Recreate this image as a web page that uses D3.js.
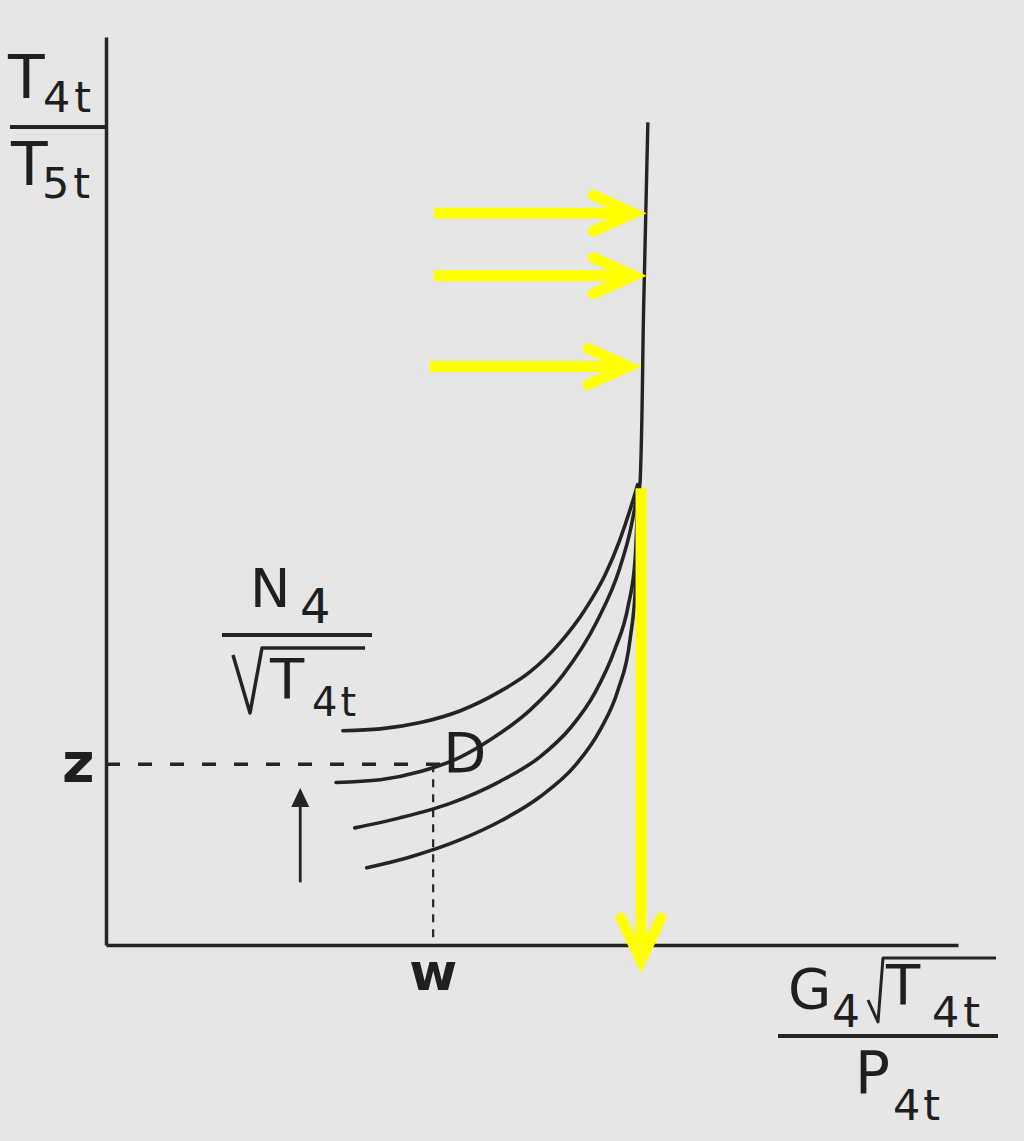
<!DOCTYPE html>
<html>
<head>
<meta charset="utf-8">
<script src="https://cdn.jsdelivr.net/npm/d3@7"></script>
<style>
  html, body { margin: 0; padding: 0; background: #e6e6e6; }
  svg { display: block; }
  text { font-family: "DejaVu Sans", sans-serif; fill: #1f1f1f; }
</style>
</head>
<body>
<svg id="chart" width="1024" height="1141"></svg>
<script>
// ---- data (abstract chart units, 0..100 on both axes) ----
const curve1 = [[27.8,23.6],[32.2,23.8],[36.9,24.5],[41.6,25.8],[46.2,27.9],[49.8,30.1],[53.3,33.3],[56.2,36.9],[58.6,40.8],[60.3,44.6],[61.7,48.5],[62.4,50.7]];
const curve2 = [[27.0,17.9],[32.2,18.2],[36.9,19.1],[41.6,20.7],[45.1,22.6],[49.8,25.9],[53.6,29.7],[57.6,35.6],[60.3,41.5],[61.5,45.5],[62.3,49.3]];
const curve3 = [[29.2,12.9],[34.5,14.0],[40.4,15.6],[46.2,18.0],[50.9,20.7],[54.5,23.9],[57.4,27.8],[59.7,32.5],[61.3,37.4],[62.1,42.4],[62.4,48.5]];
const curve4 = [[30.6,8.5],[35.7,9.7],[41.6,11.6],[46.2,13.6],[50.9,16.3],[55.1,19.8],[58.0,23.7],[60.1,28.1],[61.5,33.6],[62.2,40.2],[62.4,46.8]];
const speedLines = [curve1, curve2, curve3, curve4];
const chokeLine = [[62.4,49.0],[62.7,51.2],[63.1,70.0],[63.6,90.6]];

const zLevel = 19.9;         // operating point ordinate
const wLevel = 38.4;         // operating point abscissa
const tickLabels = ["z", "w"];
const pointLabel = "D";
const upArrow = [[22.8, 6.9], [22.8, 17.3]];

// yellow annotation arrows: [y, xStart, xEnd]
const yellowH = [[80.6, 38.5, 63.3], [73.7, 38.5, 63.3], [63.7, 38.0, 62.7]];
// vertical yellow arrow: [x, yStart, yEnd]
const yellowV = [62.8, 50.3, -3.0];

// ---- drawing ----
const svg = d3.select("#chart");
const x = d3.scaleLinear().domain([0, 100]).range([106, 958]);
const y = d3.scaleLinear().domain([0, 100]).range([945, 37]);
const ink = "#242424";

svg.append("rect").attr("width", 1024).attr("height", 1141).attr("fill", "#e6e6e6");

// axes (no ticks, just the lines)
const gx = svg.append("g").attr("transform", `translate(0,${y(0)})`)
  .call(d3.axisBottom(x).tickValues([]).tickSizeOuter(0));
const gy = svg.append("g").attr("transform", `translate(${x(0)},0)`)
  .call(d3.axisLeft(y).tickValues([]).tickSizeOuter(0));
[gx, gy].forEach(g => g.select(".domain").attr("stroke", ink).attr("stroke-width", 3.5));

const line = d3.line().x(d => x(d[0])).y(d => y(d[1])).curve(d3.curveMonotoneX);

svg.append("g").selectAll("path").data(speedLines).join("path")
  .attr("d", line).attr("fill", "none").attr("stroke", ink).attr("stroke-width", 3.6)
  .attr("stroke-linecap", "round");

svg.append("path").attr("d", d3.line().x(d => x(d[0])).y(d => y(d[1])).curve(d3.curveMonotoneY)(chokeLine))
  .attr("fill", "none").attr("stroke", ink).attr("stroke-width", 3.4);

// dashed guide lines
svg.append("line").attr("x1", x(0)).attr("x2", x(wLevel) + 8).attr("y1", y(zLevel)).attr("y2", y(zLevel))
  .attr("stroke", ink).attr("stroke-width", 3.5).attr("stroke-dasharray", "14,18");
svg.append("line").attr("x1", x(wLevel)).attr("x2", x(wLevel)).attr("y1", y(zLevel)).attr("y2", y(0))
  .attr("stroke", ink).attr("stroke-width", 2.2).attr("stroke-dasharray", "8,7");

// up arrow
svg.append("line").attr("x1", x(upArrow[0][0])).attr("x2", x(upArrow[1][0]))
  .attr("y1", y(upArrow[0][1])).attr("y2", y(upArrow[1][1]) + 14)
  .attr("stroke", ink).attr("stroke-width", 2.8);
{
  const ax = x(upArrow[1][0]), ay = y(upArrow[1][1]);
  svg.append("path").attr("d", `M${ax},${ay} L${ax - 9},${ay + 19} L${ax + 9},${ay + 19} Z`).attr("fill", ink);
}

// tick labels z, w and point label D
svg.append("text").attr("x", 62).attr("y", y(zLevel) + 18).attr("font-size", 56).attr("font-weight", "bold").text(tickLabels[0]);
svg.append("text").attr("x", x(wLevel)).attr("y", y(0) + 45).attr("text-anchor", "middle")
  .attr("font-size", 52).attr("font-weight", "bold").text(tickLabels[1]);
svg.append("text").attr("x", x(wLevel) + 10).attr("y", y(zLevel) + 8).attr("font-size", 56).text(pointLabel);

// axis titles
function frac(g, x1, x2, yy) {
  g.append("line").attr("x1", x1).attr("x2", x2).attr("y1", yy).attr("y2", yy)
    .attr("stroke", ink).attr("stroke-width", 4);
}
const lab = svg.append("g");
// y title T4t / T5t
lab.append("text").attr("x", 8).attr("y", 98).attr("font-size", 60).text("T");
lab.append("text").attr("x", 43).attr("y", 112).attr("font-size", 43).attr("letter-spacing", 4).text("4t");
frac(lab, 10, 107, 127);
lab.append("text").attr("x", 11).attr("y", 185).attr("font-size", 60).text("T");
lab.append("text").attr("x", 42).attr("y", 198).attr("font-size", 43).attr("letter-spacing", 4).text("5t");

// curve family label N4 / sqrt(T4t)
lab.append("text").attr("x", 250).attr("y", 607).attr("font-size", 54).text("N");
lab.append("text").attr("x", 300).attr("y", 623).attr("font-size", 48).text("4");
frac(lab, 222, 372, 635);
lab.append("path").attr("d", "M233,655 L250,713 L262,648 L365,648")
  .attr("fill", "none").attr("stroke", ink).attr("stroke-width", 3.5).attr("stroke-linejoin", "round");
lab.append("text").attr("x", 270).attr("y", 698).attr("font-size", 56).text("T");
lab.append("text").attr("x", 312).attr("y", 716).attr("font-size", 40).attr("letter-spacing", 3).text("4t");

// x title G4 sqrt(T4t) / P4t
lab.append("text").attr("x", 788).attr("y", 1008).attr("font-size", 56).text("G");
lab.append("text").attr("x", 832).attr("y", 1027).attr("font-size", 44).text("4");
lab.append("path").attr("d", "M868,1000 L878,1022 L883,958 L996,958")
  .attr("fill", "none").attr("stroke", ink).attr("stroke-width", 3).attr("stroke-linejoin", "round");
lab.append("text").attr("x", 886).attr("y", 1004).attr("font-size", 56).text("T");
lab.append("text").attr("x", 932).attr("y", 1027).attr("font-size", 43).attr("letter-spacing", 4).text("4t");
frac(lab, 778, 998, 1036);
lab.append("text").attr("x", 855).attr("y", 1093).attr("font-size", 58).text("P");
lab.append("text").attr("x", 893).attr("y", 1120).attr("font-size", 43).attr("letter-spacing", 3).text("4t");

// yellow annotation arrows
const yel = "#ffff00";
const ya = svg.append("g").attr("fill", "none").attr("stroke", yel).attr("stroke-width", 11)
  .attr("stroke-linejoin", "miter").attr("stroke-miterlimit", 10).attr("stroke-linecap", "round");
yellowH.forEach(([yy, x0, x1]) => {
  const py = y(yy), px0 = x(x0), px1 = x(x1);
  ya.append("line").attr("x1", px0).attr("x2", px1 - 14).attr("y1", py).attr("y2", py).attr("stroke-linecap", "butt");
  ya.append("path").attr("d", `M${px1 - 52},${py - 18} L${px1 - 12},${py} L${px1 - 52},${py + 18}`);
});
{
  const px = x(yellowV[0]), py0 = y(yellowV[1]), py1 = y(yellowV[2]);
  ya.append("line").attr("x1", px).attr("x2", px).attr("y1", py0).attr("y2", py1 - 14).attr("stroke-linecap", "butt");
  ya.append("path").attr("d", `M${px - 20},${py1 - 54} L${px},${py1 - 12} L${px + 20},${py1 - 54}`);
}
</script>
</body>
</html>
